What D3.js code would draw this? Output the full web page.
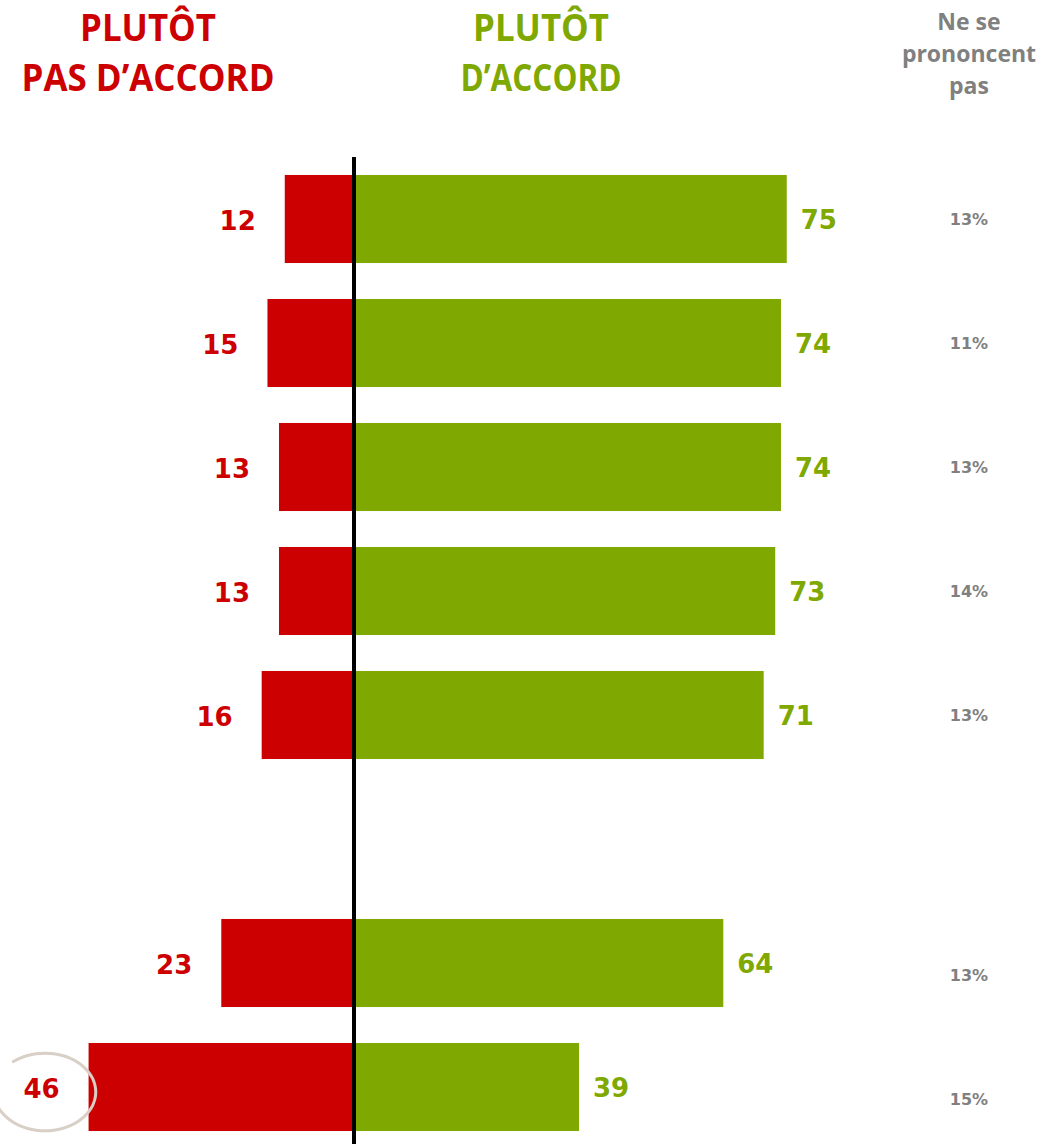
<!DOCTYPE html>
<html><head><meta charset="utf-8">
<script src="https://cdn.jsdelivr.net/npm/d3@7"></script>
<style>body{margin:0;background:#fff}svg{display:block}</style>
</head><body>
<script>
const slots = ["r1","r2","r3","r4","r5","gap","r6","r7"];
const categories = ["r1","r2","r3","r4","r5","r6","r7"];
const disagree = [12,15,13,13,16,23,46];
const agree = [75,74,74,73,71,64,39];
const noOpinion = [13,11,13,14,13,13,15];
const headerDisagree = ["PLUTÔT","PAS D’ACCORD"];
const headerAgree = ["PLUTÔT","D’ACCORD"];
const headerNo = ["Ne se","prononcent","pas"];
const circledIndex = 6;

const W = 1054, H = 1144;
const RED = "#CC0000", GREEN = "#7FA800", GREY = "#808080";
const svg = d3.select("body").append("svg").attr("width", W).attr("height", H);

const y = d3.scaleBand().domain(slots).range([157, 1149]).paddingInner(0.29).paddingOuter(0.145);
const x = d3.scaleLinear().domain([-50, 80]).range([354 - 50*5.77, 354 + 80*5.77]);

const data = categories.map((c,i)=>({c, d: disagree[i], a: agree[i], n: noOpinion[i], i}));

// bars
svg.selectAll("rect.red").data(data).join("rect")
  .attr("x", d => x(-d.d)).attr("y", d => y(d.c))
  .attr("width", d => x(0) - x(-d.d)).attr("height", y.bandwidth())
  .attr("fill", RED);
svg.selectAll("rect.green").data(data).join("rect")
  .attr("x", x(0)).attr("y", d => y(d.c))
  .attr("width", d => x(d.a) - x(0)).attr("height", y.bandwidth())
  .attr("fill", GREEN);

// center line
svg.append("line").attr("x1", x(0)).attr("x2", x(0)).attr("y1", 157).attr("y2", H)
  .attr("stroke", "#000").attr("stroke-width", 4);

const numFont = "'DejaVu Sans', Verdana, sans-serif";
// red labels
svg.selectAll("text.rl").data(data).join("text")
  .attr("x", d => x(-d.d) - 29).attr("y", d => y(d.c) + y.bandwidth()/2 + 2)
  .attr("text-anchor", "end").attr("dominant-baseline", "central")
  .attr("font-family", numFont).attr("font-weight", "bold").attr("font-size", 26)
  .attr("fill", RED).text(d => d.d);
// green labels
svg.selectAll("text.gl").data(data).join("text")
  .attr("x", d => x(d.a) + 14).attr("y", d => y(d.c) + y.bandwidth()/2 + 1)
  .attr("text-anchor", "start").attr("dominant-baseline", "central")
  .attr("font-family", numFont).attr("font-weight", "bold").attr("font-size", 26)
  .attr("fill", GREEN).text(d => d.a);
// no opinion
svg.selectAll("text.nl").data(data).join("text")
  .attr("x", 969).attr("y", d => y(d.c) + y.bandwidth()/2 + (d.i >= 5 ? 12 : 0))
  .attr("text-anchor", "middle").attr("dominant-baseline", "central")
  .attr("font-family", numFont).attr("font-weight", "bold").attr("font-size", 16)
  .attr("fill", GREY).text(d => d.n + "%");

// circle around 46
const cd = data[circledIndex];
const cx = 45, cy = y(cd.c) + y.bandwidth()/2 + 5;
svg.append("path")
  .attr("d", d3.line().curve(d3.curveBasis)(d3.range(0, 331, 10).map(a => {
    const t = (a + 230) * Math.PI/180;
    return [cx + 51*Math.cos(t), cy + 39*Math.sin(t)];
  })))
  .attr("fill", "none").attr("stroke", "#D8CFC6").attr("stroke-width", 3);

// headers
const hFont = "'Liberation Sans Narrow', 'Arial Narrow', 'Open Sans', sans-serif";
function header(lines, cxh, color, widths) {
  svg.append("g").selectAll("text").data(lines).join("text")
    .attr("x", cxh).attr("y", (d,i) => 41 + i*50)
    .attr("text-anchor", "middle")
    .attr("font-family", hFont).attr("font-weight", "bold").attr("font-size", 37)
    .attr("textLength", (d,i) => widths[i]).attr("lengthAdjust", "spacingAndGlyphs")
    .attr("fill", color).text(d => d);
}
header(headerDisagree, 148, RED, [136, 253]);
header(headerAgree, 541, GREEN, [136, 161]);

svg.append("g").selectAll("text").data(headerNo).join("text")
  .attr("x", 969).attr("y", (d,i) => 30 + i*32)
  .attr("text-anchor", "middle")
  .attr("font-family", "'Open Sans', sans-serif").attr("font-weight", "bold").attr("font-size", 23)
  .attr("fill", GREY).text(d => d);
</script>
</body></html>
